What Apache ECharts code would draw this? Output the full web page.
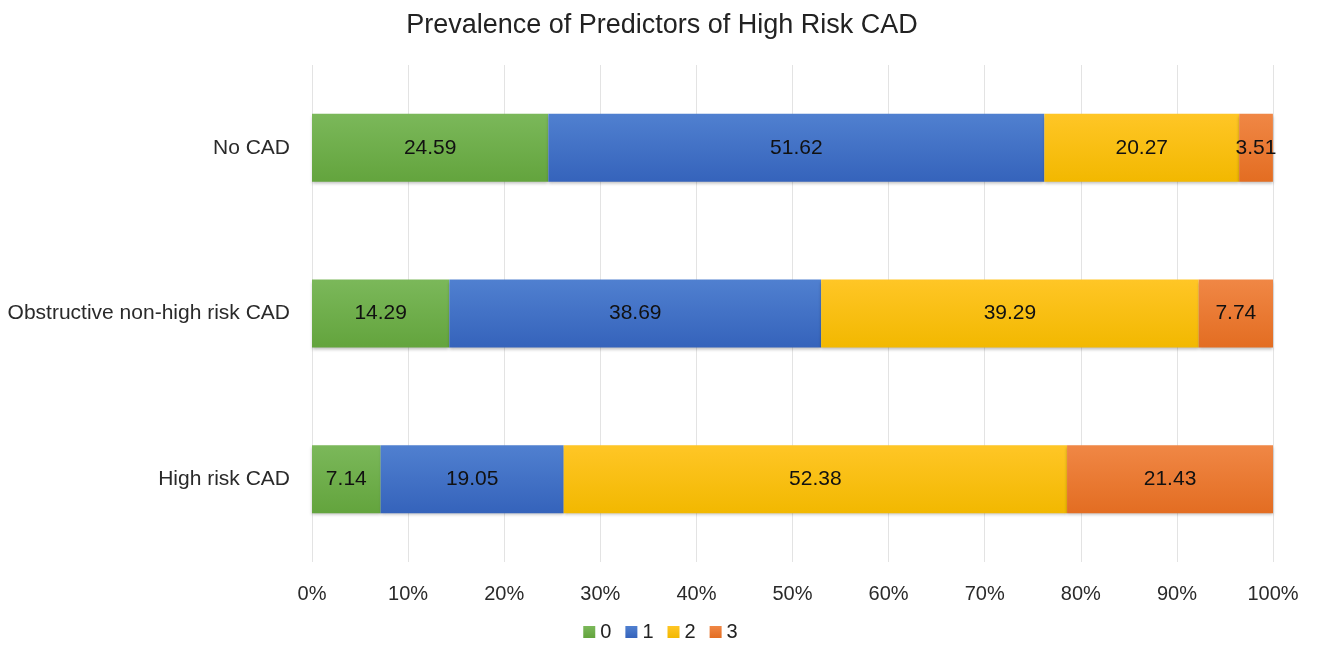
<!DOCTYPE html>
<html>
<head>
<meta charset="utf-8">
<script src="https://cdn.jsdelivr.net/npm/echarts@6/dist/echarts.min.js"></script>
<style>
  html, body { margin: 0; padding: 0; background: #fff; }
  #chart { width: 1321px; height: 650px; }
</style>
</head>
<body>
<div id="chart"></div>
<script>
// Groups, listed bottom to top as the category axis draws them
const categories = ['High risk CAD', 'Obstructive non-high risk CAD', 'No CAD'];
const seriesNames = ['0', '1', '2', '3'];
// Share of patients (%) with 0..3 predictors, per group (same order as categories)
const pred0 = [7.14, 14.29, 24.59];
const pred1 = [19.05, 38.69, 51.62];
const pred2 = [52.38, 39.29, 20.27];
const pred3 = [21.43, 7.74, 3.51];
const tickLabels = ['0%', '10%', '20%', '30%', '40%', '50%', '60%', '70%', '80%', '90%', '100%'];

const values = [pred0, pred1, pred2, pred3];
const palette = [
  ['#7bb85a', '#63a43d'],
  ['#5080d0', '#3563bb'],
  ['#ffc626', '#f2b800'],
  ['#f08745', '#e36d22']
];
const font = '"Liberation Sans", Arial, sans-serif';

const chart = echarts.init(document.getElementById('chart'));
chart.setOption({
  animation: false,
  title: {
    text: 'Prevalence of Predictors of High Risk CAD',
    left: 657, top: 7, textAlign: 'center',
    textStyle: { fontFamily: font, fontSize: 27, fontWeight: 'normal', color: '#222' }
  },
  legend: {
    bottom: 3, left: 'center',
    itemWidth: 12, itemHeight: 12, itemGap: 14,
    icon: 'rect',
    textStyle: { fontFamily: font, fontSize: 20, color: '#222' },
    data: seriesNames
  },
  grid: { left: 312, right: 48, top: 65, bottom: 88 },
  xAxis: {
    type: 'value', min: 0, max: 100, interval: 10,
    axisLine: { show: false }, axisTick: { show: false },
    splitLine: { lineStyle: { color: '#e3e3e3', width: 1 } },
    axisLabel: {
      margin: 22, fontFamily: font, fontSize: 20, color: '#2a2a2a',
      formatter: v => tickLabels[Math.round(v / 10)]
    }
  },
  yAxis: {
    type: 'category', data: categories,
    axisLine: { show: false }, axisTick: { show: false },
    axisLabel: { margin: 22, fontFamily: font, fontSize: 21, color: '#2a2a2a' }
  },
  series: seriesNames.map((name, i) => ({
    name: name,
    type: 'bar',
    stack: 'total',
    barWidth: 68,
    data: values[i],
    itemStyle: {
      color: new echarts.graphic.LinearGradient(0, 0, 0, 1, [
        { offset: 0, color: palette[i][0] },
        { offset: 1, color: palette[i][1] }
      ]),
      shadowColor: 'rgba(0,0,0,0.25)', shadowBlur: 3, shadowOffsetY: 2
    },
    label: {
      show: true, position: 'inside',
      fontFamily: font, fontSize: 21, color: '#111',
      formatter: p => p.value.toFixed(2)
    }
  }))
});
</script>
</body>
</html>
